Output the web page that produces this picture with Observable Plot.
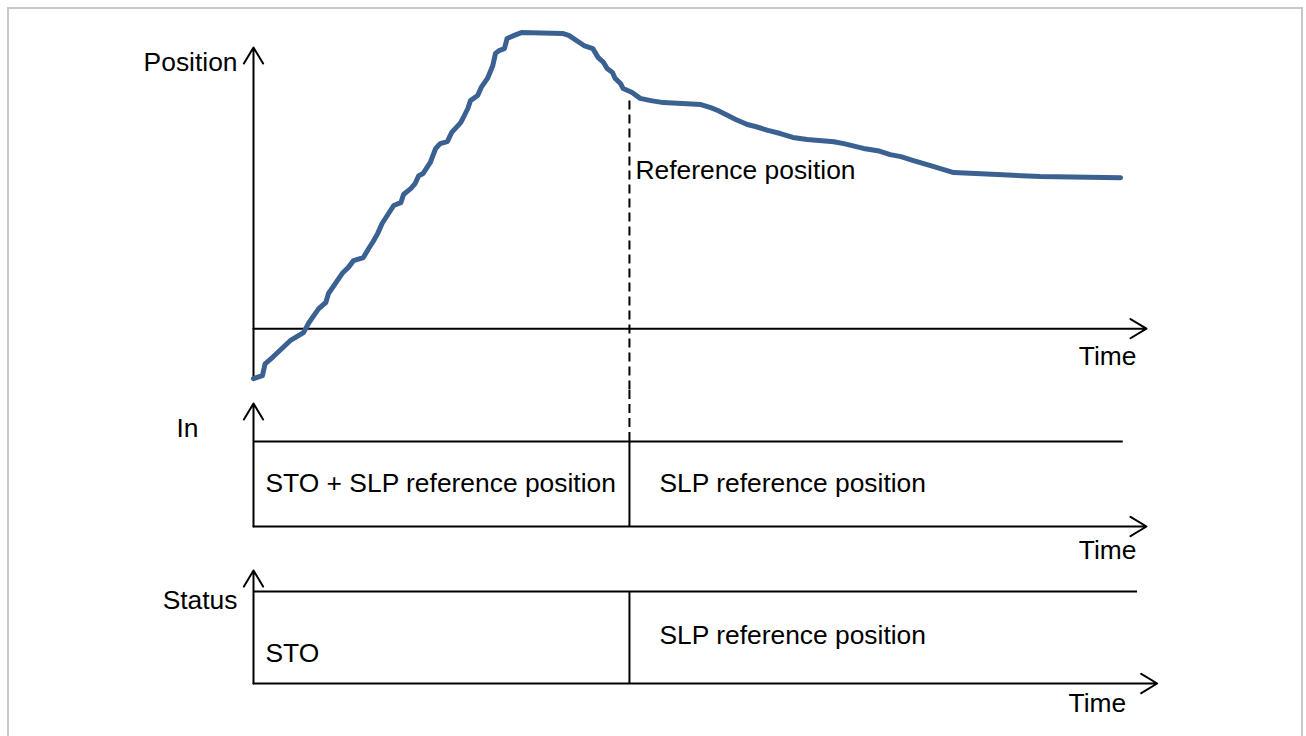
<!DOCTYPE html>
<html>
<head>
<meta charset="utf-8">
<script src="https://cdn.jsdelivr.net/npm/d3@7"></script>
<script src="https://cdn.jsdelivr.net/npm/@observablehq/plot@0.6"></script>
<style>
  html, body { margin: 0; padding: 0; background: #fff; }
  #figure { position: relative; width: 1306px; height: 736px; overflow: hidden; background: #fff; }
  #frame { position: absolute; left: 7px; top: 7px; width: 1296px; height: 780px; border: 2px solid #c8c8c8; box-sizing: border-box; }
  .panel { position: absolute; left: 0; }
  .panel svg { overflow: visible; display: block; }
</style>
</head>
<body>
<div id="figure"><div id="frame"></div></div>
<script>
// Position trace over time (time axis 0–100, position axis 0–100)
const times = [
  0, 1.0, 1.3, 2.2, 4.1, 5.6, 6.2, 7.3, 8.1, 8.4, 10.0, 10.6, 11.2, 12.3, 12.9, 13.4,
  13.9, 14.4, 15.7, 16.5, 16.8, 17.6, 18.1, 18.5, 19.0, 19.8, 20.4, 20.9, 21.7, 22.2,
  23.2, 23.5, 24.0, 24.3, 25.1, 25.5, 26.2, 26.8, 27.1, 27.5, 28.1, 28.4, 29.2, 30.0,
  34.6, 35.3, 37.0, 38.0, 38.6, 39.2, 39.6, 40.2, 40.5, 41.1, 41.4, 42.4, 43.3, 44.5,
  45.9, 50.1, 51.2, 52.0, 52.9, 54.0, 55.3, 56.2, 57.6, 59.0, 60.4, 62.0, 65.0, 66.1,
  68.3, 69.9, 71.3, 72.5, 73.9, 76.1, 78.4, 83.3, 88.1, 97.1
];
const positions = [
  -17.8, -16.7, -12.5, -10.0, -4.3, -1.4, 2.1, 7.1, 9.3, 12.5, 19.9, 21.7, 24.2, 25.3, 28.5, 31.0,
  33.8, 37.4, 43.8, 44.8, 47.7, 49.8, 51.6, 54.4, 55.2, 59.1, 64.1, 65.8, 66.5, 69.8,
  73.3, 75.1, 78.3, 81.1, 82.9, 85.8, 89.0, 93.6, 97.9, 98.9, 99.6, 103.2, 104.3, 105.3,
  105.0, 104.3, 100.7, 99.6, 96.4, 94.7, 92.5, 91.1, 89.0, 87.2, 85.4, 84.0, 81.9, 81.1,
  80.4, 79.7, 78.6, 77.6, 76.2, 74.4, 72.6, 71.9, 70.5, 69.4, 68.0, 67.3, 66.5, 65.8,
  64.1, 63.3, 61.9, 61.2, 59.8, 57.7, 55.5, 54.8, 54.1, 53.7
];

// Moment the reference position is reached
const referenceTime = 42.1;
const referencePosition = 81;

// Timing rows: phase labels and their boundaries on the time axis
const inputPhases = ["STO + SLP reference position", "SLP reference position"];
const inputBounds = [0, referenceTime, 97.4];
const statusPhases = ["STO", "SLP reference position"];
const statusBounds = [0, referenceTime, 99];

// Axis titles
const axisTitles = ["Position", "In", "Status"];
const timeLabel = "Time";
const referenceLabel = "Reference position";

const W = 1306;
const FONT = "'Liberation Sans', Arial, Helvetica, sans-serif";
const FS = 26.4;
const ink = "#000";
const curveColor = "#3b6192";

const arrowStyle = {stroke: ink, strokeWidth: 2, headLength: 14, headAngle: 62};
const textStyle = {fontFamily: FONT, fontSize: FS, fill: ink};
const dashStyle = {stroke: ink, strokeWidth: 2, strokeDasharray: "9,5"};

function panel(top, svg) {
  const div = document.createElement("div");
  div.className = "panel";
  div.style.top = top + "px";
  div.appendChild(svg);
  document.getElementById("figure").appendChild(div);
}

function segmentsOf(bounds, labels) {
  return labels.map((label, i) => ({start: bounds[i], end: bounds[i + 1], label}));
}

const common = {
  width: W,
  marginLeft: 253,
  marginRight: 160,
  x: {domain: [0, 100], axis: null},
  style: {background: "transparent", overflow: "visible"}
};

// Position vs. time
const positionDomain = [-22, 100];
const curve = times.map((t, i) => ({t, p: positions[i]}));
panel(0, Plot.plot({
  ...common,
  height: 390,
  marginTop: 47,
  marginBottom: 0,
  y: {domain: positionDomain, axis: null},
  marks: [
    // dashed marker runs from the reference position to the bottom of this row
    Plot.ruleX([referenceTime], {y1: referencePosition, y2: positionDomain[0], ...dashStyle}),
    Plot.arrow([0], {x1: 0, y1: positions[0], x2: 0, y2: 100, ...arrowStyle}),
    Plot.arrow([0], {x1: 0, y1: 0, x2: 100, y2: 0, ...arrowStyle}),
    Plot.line(curve, {x: "t", y: "p", stroke: curveColor, strokeWidth: 5,
      strokeLinejoin: "round", strokeLinecap: "round"}),
    Plot.text([axisTitles[0]], {x: 0, y: 100, text: d => d, textAnchor: "end", dx: -16, dy: 14.6, ...textStyle}),
    Plot.text([timeLabel], {x: 100, y: 0, text: d => d, textAnchor: "end", dx: -10, dy: 27.5, ...textStyle}),
    Plot.text([referenceLabel], {x: referenceTime, y: referencePosition, text: d => d, textAnchor: "start", dx: 6, dy: 70, ...textStyle})
  ]
}));

// Input signal row
const inputDomain = [0, 1.6];
const inputSegments = segmentsOf(inputBounds, inputPhases);
panel(390, Plot.plot({
  ...common,
  height: 175,
  marginTop: 0,
  marginBottom: 39,
  y: {domain: inputDomain, axis: null},
  marks: [
    // continuation of the dashed marker down to the signal level
    Plot.ruleX([referenceTime], {y1: inputDomain[1], y2: 1, ...dashStyle}),
    Plot.ruleY(inputSegments, {x1: "start", x2: "end", y: 1, stroke: ink, strokeWidth: 2}),
    Plot.ruleX(inputBounds.slice(1, -1), {y1: 0, y2: 1, stroke: ink, strokeWidth: 2}),
    Plot.arrow([0], {x1: 0, y1: 0, x2: 0, y2: 1.447, ...arrowStyle}),
    Plot.arrow([0], {x1: 0, y1: 0, x2: 100, y2: 0, ...arrowStyle}),
    Plot.text([axisTitles[1]], {x: 0, y: 1, text: d => d, textAnchor: "start", dx: -77, dy: -12.5, ...textStyle}),
    Plot.text([inputSegments[0]], {x: "start", y: 1, text: "label", textAnchor: "start", dx: 12, dy: 42.5, ...textStyle}),
    Plot.text([inputSegments[1]], {x: "start", y: 1, text: "label", textAnchor: "start", dx: 30, dy: 42.5, ...textStyle}),
    Plot.text([timeLabel], {x: 100, y: 0, text: d => d, textAnchor: "end", dx: -10, dy: 24.5, ...textStyle})
  ]
}));

// Status row
const statusSegments = segmentsOf(statusBounds, statusPhases);
panel(565, Plot.plot({
  ...common,
  height: 171,
  marginTop: 26,
  marginBottom: 53,
  y: {domain: [0, 1], axis: null},
  marks: [
    Plot.ruleY(statusSegments, {x1: "start", x2: "end", y: 1, stroke: ink, strokeWidth: 2}),
    Plot.ruleX(statusBounds.slice(1, -1), {y1: 0, y2: 1, stroke: ink, strokeWidth: 2}),
    Plot.arrow([0], {x1: 0, y1: 0, x2: 0, y2: 1.228, ...arrowStyle}),
    Plot.arrow([0], {x1: 0, y1: 0, x2: 101.2, y2: 0, ...arrowStyle}),
    Plot.text([axisTitles[2]], {x: 0, y: 1, text: d => d, textAnchor: "end", dx: -16, dy: 9.5, ...textStyle}),
    Plot.text([statusSegments[0]], {x: "start", y: 0, text: "label", textAnchor: "start", dx: 12, dy: -29.5, ...textStyle}),
    Plot.text([statusSegments[1]], {x: "start", y: 1, text: "label", textAnchor: "start", dx: 30, dy: 44.5, ...textStyle}),
    Plot.text([timeLabel], {x: 101.2, y: 0, text: d => d, textAnchor: "end", dx: -31, dy: 20.5, ...textStyle})
  ]
}));
</script>
</body>
</html>
